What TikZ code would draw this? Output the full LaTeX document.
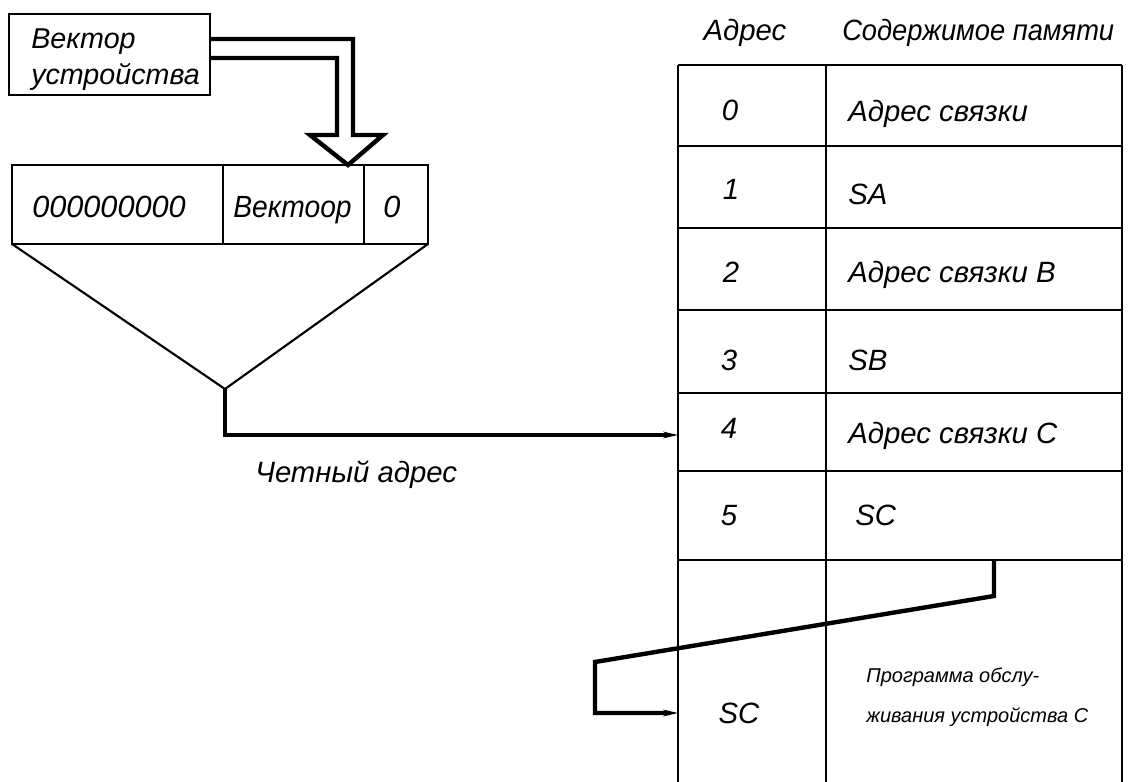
\documentclass[tikz,border=0pt]{standalone}
\usepackage{fontspec}
\setmainfont{Liberation Sans}
\usetikzlibrary{arrows.meta}

\tikzset{
  thinline/.style={line width=1.6pt, line join=miter},
  busline/.style={line width=3.3pt, line join=miter},
  conn/.style={line width=3.3pt, line join=miter,
    -{Stealth[length=11pt,width=5pt]}},
  lbl/.style={inner sep=0pt, font=\fontsize{22}{26}\selectfont\itshape},
  reglbl/.style={inner sep=0pt, font=\fontsize{23}{27}\selectfont\itshape},
  veclbl/.style={inner sep=0pt, font=\fontsize{21.5}{26}\selectfont\itshape},
  smalllbl/.style={inner sep=0pt, font=\fontsize{15}{18}\selectfont\itshape},
}

\begin{document}
\begin{tikzpicture}[x=0.75pt, y=-0.75pt]
\useasboundingbox (0,0) rectangle (1129,782);

% --- source box
\draw[thinline] (9,14) rectangle (210,95);
\node[veclbl, anchor=base west] (vec1) at (31,48) {Вектор};
\node[veclbl, anchor=base west] (vec2) at (31,84) {устройства};

% --- hollow block arrow into the register
\coordinate (srcA) at (210,39);
\coordinate (srcB) at (210,58);
\coordinate (tip) at (348,165);
\draw[busline] (srcA) -- (353,39) -- (353,135) -- (383,135) -- (tip)
  -- (310,135) -- (337,135) -- (337,58) -- (srcB);

% --- register
\draw[thinline] (12,165) rectangle (428,244);
\draw[thinline] (223,165) -- (223,244);
\draw[thinline] (364,165) -- (364,244);
\node[reglbl, anchor=base west] (zeros) at (32,217) {000000000};
\node[reglbl, anchor=base west] (vfield) at (233,217) {\scalebox{0.92}[1]{Вектоор}};
\node[reglbl, anchor=base] (lowbit) at (392,217) {0};

% --- funnel
\coordinate (apex) at (225,389);
\draw[thinline] (12,244) -- (apex) -- (428,244);

% --- memory table
\foreach \yy in {65,146,228,310,393,471,560}
  \draw[thinline] (678,\yy) -- (1122,\yy);
\foreach \xx in {678,826,1122}
  \draw[thinline] (\xx,65) -- (\xx,782);

\node[lbl, anchor=base] (hAddr) at (745,40) {Адрес};
\node[lbl, anchor=base west] (hMem) at (842,40) {\scalebox{0.93}[1]{Содержимое памяти}};

\node[lbl, anchor=base] (a0) at (730,120) {0};
\node[lbl, anchor=base west] (m0) at (848,121) {Адрес связки};
\node[lbl, anchor=base] (a1) at (731,199) {1};
\node[lbl, anchor=base west] (m1) at (848,204) {SA};
\node[lbl, anchor=base] (a2) at (731,282) {2};
\node[lbl, anchor=base west] (m2) at (848,282) {Адрес связки B};
\node[lbl, anchor=base] (a3) at (729,370) {3};
\node[lbl, anchor=base west] (m3) at (848,370) {SB};
\node[lbl, anchor=base] (a4) at (729,438) {4};
\node[lbl, anchor=base west] (m4) at (848,443) {Адрес связки C};
\node[lbl, anchor=base] (a5) at (729,525) {5};
\node[lbl, anchor=base west] (m5) at (855,525) {SC};

\node[lbl, anchor=base] (a6) at (739,723) {SC};
\node[smalllbl, anchor=base west] (prog1) at (866,682) {Программа обслу-};
\node[smalllbl, anchor=base west] (prog2) at (866,722) {живания устройства C};

% --- even address into cell 4
\coordinate (row4in) at (678,435);
\draw[conn] (apex) |- (row4in);
\node[lbl, anchor=base west] (even) at (255,482) {Четный адрес};

% --- link from cell 5 into the service routine
\coordinate (row5out) at (994,560);
\coordinate (row6in) at (678,713);
\draw[conn] (row5out) -- (994,596) -- (595,662) -- (595,713) -- (row6in);
\end{tikzpicture}
\end{document}
